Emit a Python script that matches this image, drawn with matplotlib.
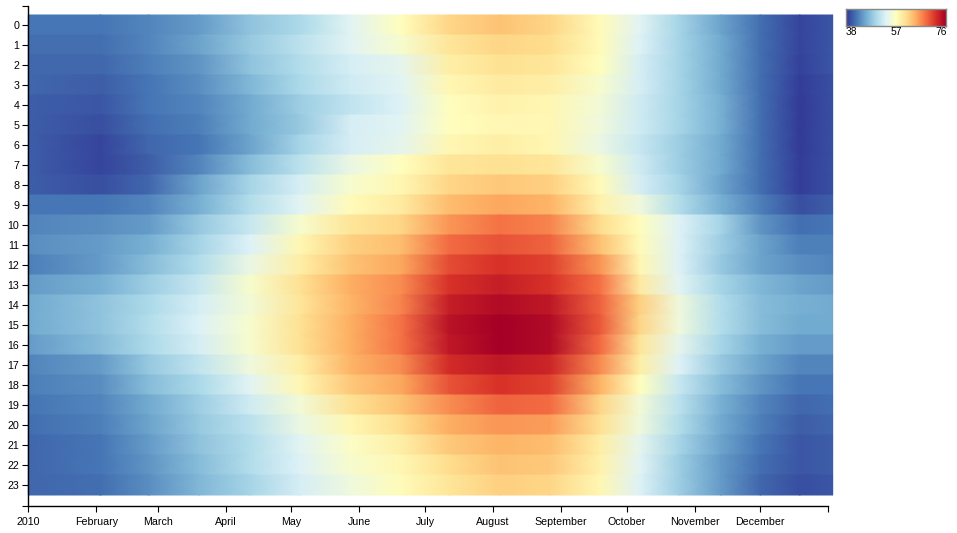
import calendar
import numpy as np
import matplotlib
matplotlib.use('Agg')
import matplotlib.pyplot as plt
from matplotlib.colors import Normalize

# ---- data (temperature by hour of day and day of 2010) ----
hours = list(range(24))
sample_days = [0, 33, 55, 78, 101, 124, 147, 170, 192, 215, 238, 261, 279, 297, 316, 334, 352, 367]

temps = [
    [42, 42, 43, 44.5, 47.5, 49.5, 53.5, 57, 61.5, 63, 61.5, 57.5, 53.5, 49, 45, 41.5, 39, 40],
    [41.5, 41.5, 43, 45, 48, 50.5, 53.5, 56, 60, 61.5, 61, 57.5, 53, 49, 45.5, 41.5, 39, 40],
    [41, 41, 42.5, 44, 47.5, 50, 52.5, 54, 59, 60.5, 60, 57, 52.5, 49, 45.5, 41.5, 38.8, 40],
    [41, 40.5, 42, 43.5, 46.5, 49.5, 52, 53.5, 58, 59.5, 59, 56, 52.5, 49, 45.5, 41.5, 38.5, 39.5],
    [40.5, 40, 42, 43, 45.5, 48.5, 51, 53, 57, 58.5, 58, 55.5, 52, 49, 46, 41.5, 38.3, 39.5],
    [40.5, 39.5, 41.5, 42.5, 45.5, 48, 52.5, 53.5, 57, 58, 58, 55, 52, 49, 46, 41.5, 38.3, 39.5],
    [40.5, 39, 41, 42, 45, 49, 52.5, 54, 58, 59, 58, 54.5, 51.5, 48.5, 45.5, 41.5, 38.3, 39.5],
    [40.5, 39, 40.5, 43, 47, 50.5, 54.5, 57, 60, 60.5, 60, 56, 52, 48.5, 45.5, 41.5, 38.5, 39.5],
    [40.5, 39.5, 41, 45, 49, 52.5, 56, 58, 61.5, 62.5, 62, 57.5, 52.5, 49, 45, 41.5, 38.5, 39.5],
    [42, 42, 43, 46, 50, 53.5, 57.5, 59.5, 63.5, 65, 64, 58.5, 55, 50, 46, 42.5, 39.5, 40.5],
    [43, 43.5, 44.5, 48, 51.5, 56, 60, 61.5, 66, 68, 67, 61, 57, 53, 49, 44, 41.5, 42],
    [43.5, 44.5, 46, 49, 53, 58, 62, 63.5, 68.5, 70, 69, 63, 57.5, 53, 48.5, 45, 42.5, 42.5],
    [42.5, 44.5, 47, 50, 54.5, 59, 63, 65, 70.5, 72, 71, 66, 58, 53, 48, 45, 43.5, 43],
    [44.5, 46, 48.5, 51.5, 56, 60.5, 64.5, 66.5, 72, 73.5, 72, 68, 59.5, 53.5, 49, 46.5, 45, 44.5],
    [45.5, 47.5, 49.5, 52.5, 55.5, 60, 64, 67, 73.5, 75, 74, 69, 62, 55, 50, 47, 46, 45.5],
    [45.5, 47.5, 50, 53, 56, 60.5, 64.5, 68, 74.5, 76, 75, 69.5, 61.5, 55, 50, 47, 45.5, 45.5],
    [44.5, 47, 49.5, 52.5, 56, 60.5, 64.5, 68, 74, 76, 75, 68.5, 60, 54, 49, 46, 44.5, 44.5],
    [43, 44.5, 48, 51, 55, 59, 64, 66.5, 72.5, 74, 73, 66.5, 59, 53, 48, 45, 43, 43],
    [42.5, 43.5, 47, 49.5, 53.5, 58, 62.5, 65, 70, 72, 71, 64, 57, 51.5, 47, 44, 42, 42],
    [42, 43, 45.5, 48.5, 52, 55.5, 60.5, 63, 66.5, 69, 68.5, 61.5, 55.5, 50.5, 46, 43, 41, 41.5],
    [41.5, 42.5, 45, 48, 50.5, 54.5, 58, 61, 64.5, 66, 65.5, 60.5, 55, 50, 45.5, 42.5, 40.5, 41],
    [41, 42, 44.5, 47.5, 50, 53.5, 56.5, 59, 62.5, 64, 63.5, 59, 54, 49, 45, 42, 40, 40.5],
    [41, 42, 44, 47, 50, 53, 56, 58, 61, 63, 62.5, 58.5, 53.5, 48.5, 44.5, 41.5, 40, 40.5],
    [41, 41.5, 43.5, 46.5, 49, 52.5, 55, 57.5, 60, 62, 61.5, 58, 53, 48.5, 44.5, 41, 39.5, 40],
]

legend_ticks = [38, 57, 76]
month_labels = ['2010', 'February', 'March', 'April', 'May', 'June', 'July',
                'August', 'September', 'October', 'November', 'December', '']

plt.rcParams['font.family'] = ['Liberation Sans', 'DejaVu Sans']

W, H = 957, 533
fig = plt.figure(figsize=(W / 100, H / 100), dpi=100)
ax = fig.add_axes([28.3 / W, 27 / H, 800 / W, 500 / H])

norm = Normalize(vmin=legend_ticks[0], vmax=legend_ticks[-1])
cmap = plt.get_cmap('RdYlBu_r')

# one band per hour, colour blended along the days only
vals = np.array(temps, dtype=float)
days = np.array(sample_days, dtype=float)
X = np.repeat(days[None, :], 2 * len(hours), axis=0)
Y = np.zeros_like(X)
C = np.zeros_like(X)
for i, h in enumerate(hours):
    Y[2 * i, :] = h - 0.5
    Y[2 * i + 1, :] = h + 0.5
    C[2 * i, :] = vals[i]
    C[2 * i + 1, :] = vals[i]
mesh = ax.pcolormesh(X, Y, C, cmap=cmap, norm=norm, shading='gouraud',
                     clip_on=False, rasterized=True)

ax.set_xlim(0, 365)
ax.set_ylim(24.05, -0.95)

month_starts = np.cumsum([0] + [calendar.monthrange(2010, m)[1] for m in range(1, 13)])
ax.set_xticks(month_starts)
ax.set_xticklabels(month_labels)
ax.set_yticks([-0.95] + hours + [24.05])
ax.set_yticklabels([''] + [str(h) for h in hours] + [''])

for s in ['top', 'right']:
    ax.spines[s].set_visible(False)
for s in ['left', 'bottom']:
    ax.spines[s].set_linewidth(1.0)
ax.tick_params(axis='both', length=4.3, width=0.8, labelsize=7.7, colors='black')
ax.tick_params(axis='x', pad=3.5)
ax.tick_params(axis='y', pad=2.2)

# colour legend, top right
cax = fig.add_axes([846 / W, 1 - 26 / H, 100 / W, 17 / H])
grad = np.linspace(legend_ticks[0], legend_ticks[-1], 256)[None, :]
cax.imshow(grad, cmap=cmap, norm=norm, aspect='auto', extent=[0, 1, 0, 1])
cax.set_xticks([])
cax.set_yticks([])
for s in cax.spines.values():
    s.set_edgecolor('#888888')
    s.set_linewidth(1.0)
fig.text(846 / W, 1 - 32 / H, str(legend_ticks[0]), ha='left', va='center', fontsize=7.4)
fig.text(896 / W, 1 - 32 / H, str(legend_ticks[1]), ha='center', va='center', fontsize=7.4)
fig.text(947 / W, 1 - 32 / H, str(legend_ticks[2]), ha='right', va='center', fontsize=7.4)

fig.savefig('out.png', dpi=100)
